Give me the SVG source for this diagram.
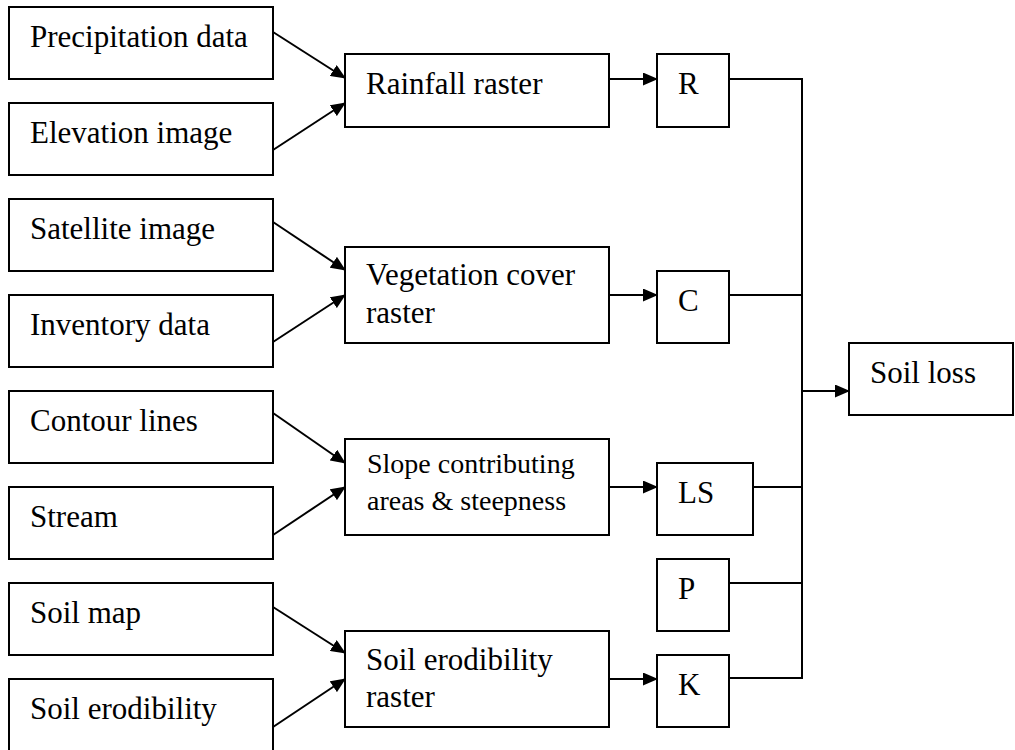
<svg xmlns="http://www.w3.org/2000/svg" width="1015" height="750" viewBox="0 0 1015 750">
<style>
rect{fill:#fff;stroke:#000;stroke-width:2}
text{font-family:"Liberation Serif","Times New Roman",serif;font-size:31px;fill:#000}
.sm{font-size:28px}
#connectors line,#connectors polyline{stroke:#000;stroke-width:2;fill:none}
.a{marker-end:url(#ah)}
</style>
<defs>
<marker id="ah" markerUnits="userSpaceOnUse" markerWidth="15" markerHeight="13" refX="14" refY="6.5" orient="auto"><path d="M0,0 L15,6.5 L0,13 z" fill="#000"/></marker>
</defs>
<rect x="0" y="0" width="1015" height="750" style="stroke:none"/>
<g id="connectors">
<line class="a" x1="273" y1="32" x2="345" y2="78"/>
<line class="a" x1="273" y1="150" x2="345" y2="103"/>
<line class="a" x1="273" y1="222" x2="345" y2="270"/>
<line class="a" x1="273" y1="342" x2="345" y2="295"/>
<line class="a" x1="273" y1="413" x2="345" y2="463"/>
<line class="a" x1="273" y1="535" x2="345" y2="487"/>
<line class="a" x1="273" y1="607" x2="345" y2="653"/>
<line class="a" x1="273" y1="727" x2="345" y2="679"/>
<line class="a" x1="609" y1="79" x2="657" y2="79"/>
<line class="a" x1="609" y1="295" x2="657" y2="295"/>
<line class="a" x1="609" y1="487" x2="657" y2="487"/>
<line class="a" x1="609" y1="679" x2="657" y2="679"/>
<polyline points="729,79 802,79 802,678 729,678"/>
<line x1="729" y1="295" x2="802" y2="295"/>
<line x1="753" y1="487" x2="802" y2="487"/>
<line x1="729" y1="583" x2="802" y2="583"/>
<line class="a" x1="802" y1="391" x2="849" y2="391"/>
</g>
<g id="precipitation"><rect x="9" y="7" width="264" height="72"/><text x="30" y="47">Precipitation data</text></g>
<g id="elevation"><rect x="9" y="103" width="264" height="72"/><text x="30" y="143">Elevation image</text></g>
<g id="satellite"><rect x="9" y="199" width="264" height="72"/><text x="30" y="239">Satellite image</text></g>
<g id="inventory"><rect x="9" y="295" width="264" height="72"/><text x="30" y="335">Inventory data</text></g>
<g id="contour"><rect x="9" y="391" width="264" height="72"/><text x="30" y="431">Contour lines</text></g>
<g id="stream"><rect x="9" y="487" width="264" height="72"/><text x="30" y="527">Stream</text></g>
<g id="soilmap"><rect x="9" y="583" width="264" height="72"/><text x="30" y="623">Soil map</text></g>
<g id="soilerod"><rect x="9" y="679" width="264" height="74"/><text x="30" y="719">Soil erodibility</text></g>
<g id="rainfall"><rect x="345" y="54" width="264" height="73"/><text x="366" y="94">Rainfall raster</text></g>
<g id="vegetation"><rect x="345" y="247" width="264" height="96"/><text x="366" y="285">Vegetation cover</text><text x="366" y="323">raster</text></g>
<g id="slope"><rect x="345" y="439" width="264" height="96"/><text class="sm" x="367" y="473">Slope contributing</text><text class="sm" x="367" y="510">areas &amp; steepness</text></g>
<g id="soilraster"><rect x="345" y="631" width="264" height="96"/><text x="366" y="670">Soil erodibility</text><text x="366" y="707">raster</text></g>
<g id="R"><rect x="657" y="54" width="72" height="73"/><text x="678" y="94">R</text></g>
<g id="C"><rect x="657" y="271" width="72" height="72"/><text x="678" y="311">C</text></g>
<g id="LS"><rect x="657" y="463" width="96" height="72"/><text x="678" y="503">LS</text></g>
<g id="P"><rect x="657" y="559" width="72" height="72"/><text x="678" y="599">P</text></g>
<g id="K"><rect x="657" y="655" width="72" height="72"/><text x="678" y="695">K</text></g>
<g id="soilloss"><rect x="849" y="343" width="164" height="72"/><text x="870" y="383">Soil loss</text></g>
</svg>
